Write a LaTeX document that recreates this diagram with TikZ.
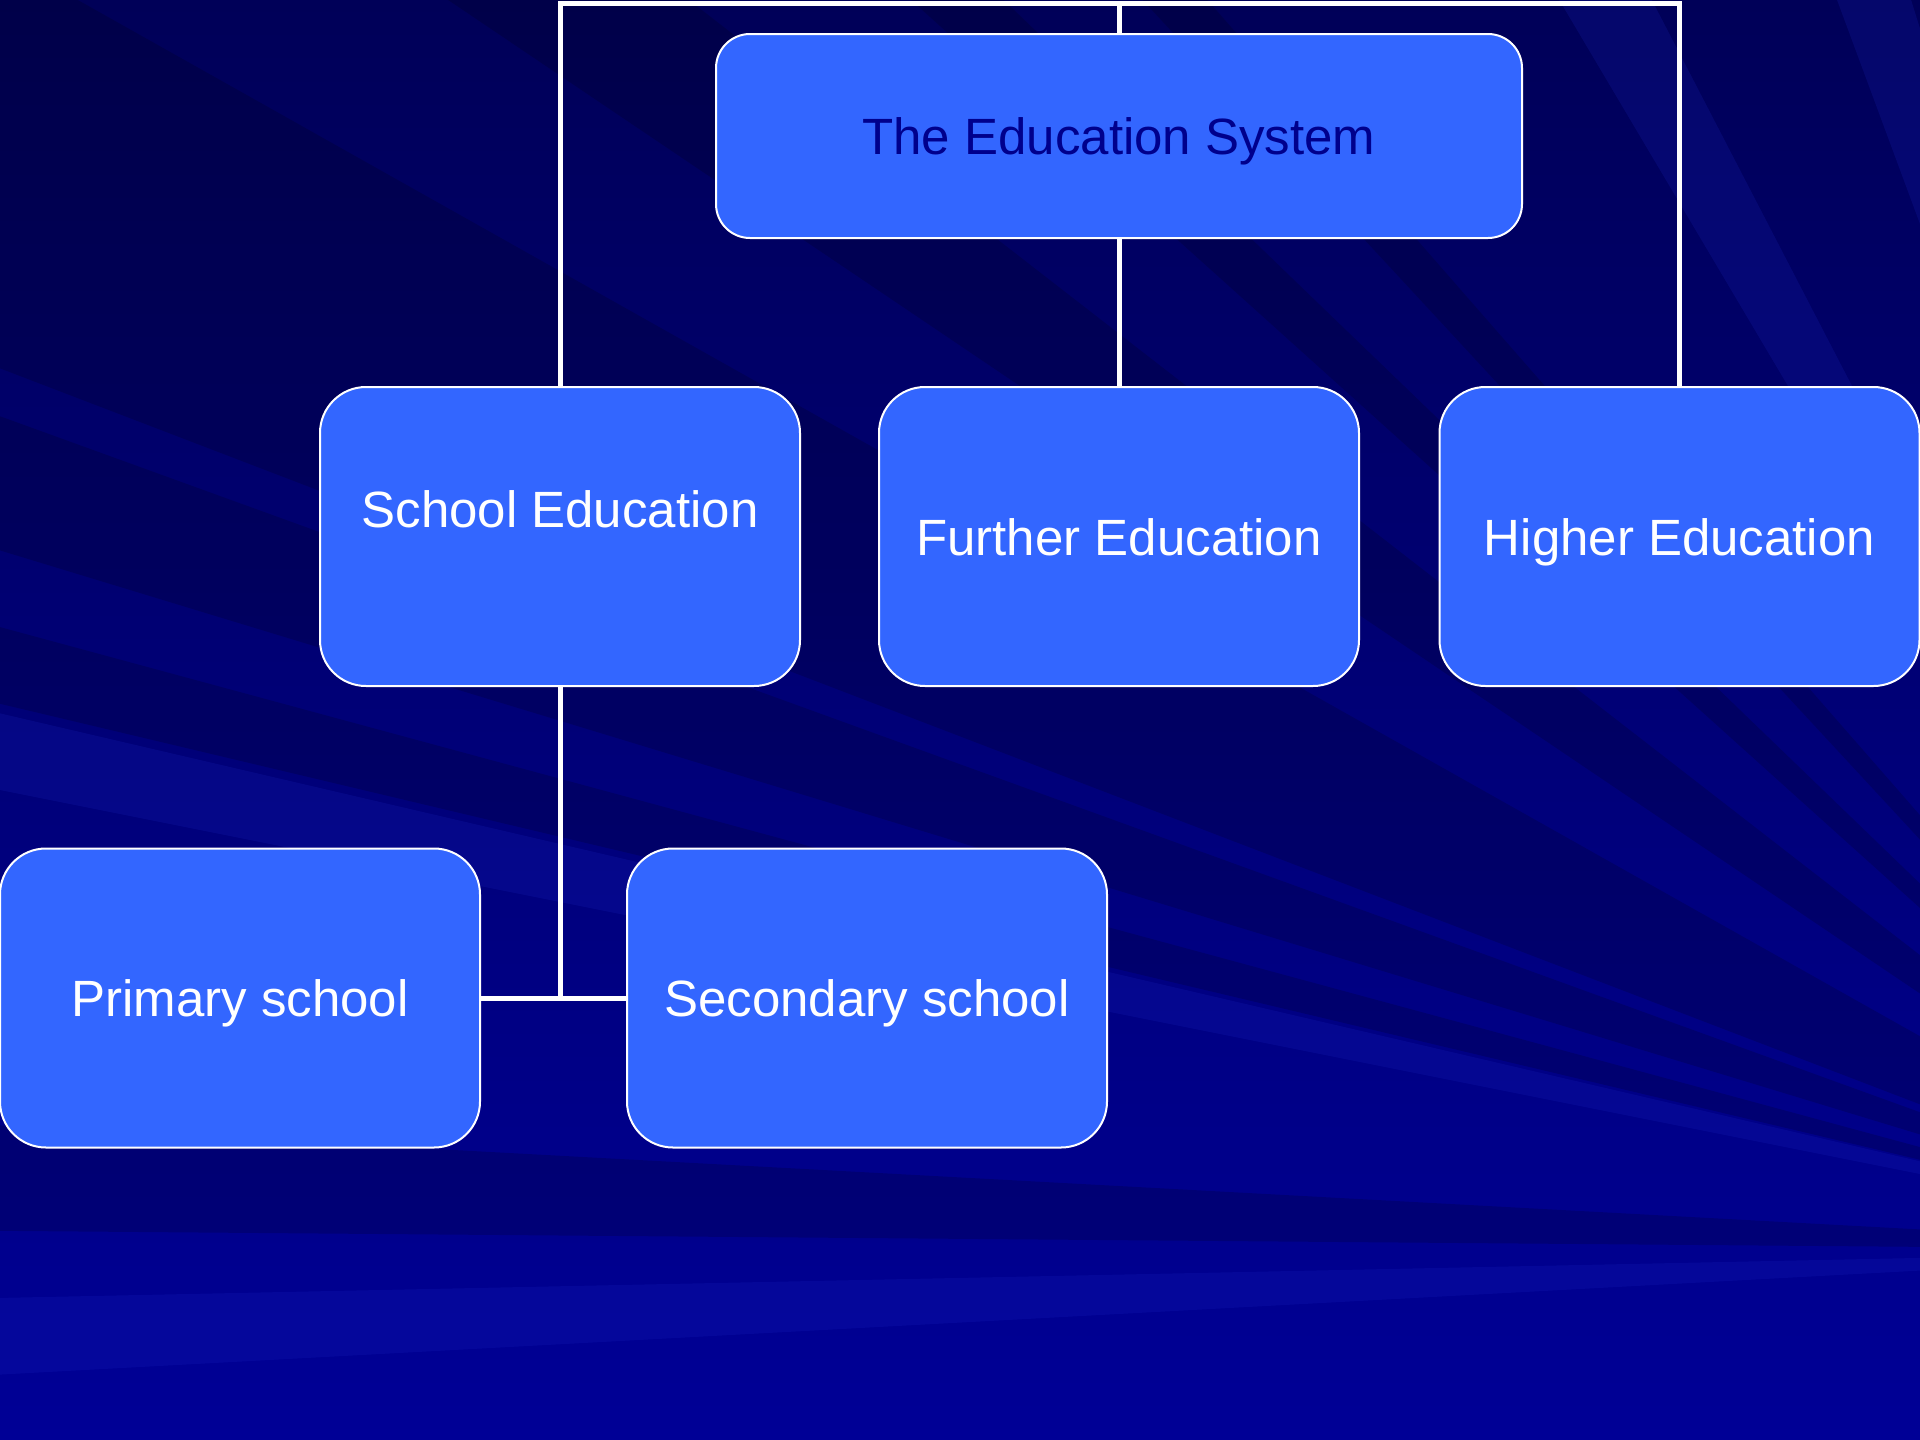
\documentclass[tikz,border=0pt]{standalone}
\usepackage{fontspec}
\setmainfont{Liberation Sans}
\pgfdeclarelayer{bg}
\pgfdeclarelayer{lines}
\pgfsetlayers{bg,lines,main}
\begin{document}
\begin{tikzpicture}[x=1pt,y=-1pt,
  box/.style={draw=white,line width=2pt,fill=boxblue,rounded corners=46pt,
    minimum width=480pt,minimum height=299pt,inner sep=0pt,
    text height=37pt,text depth=0pt,
    text=white,font=\fontsize{51}{60}\selectfont},
  link/.style={draw=white,line width=5pt},
  darkray/.style={fill=black,opacity=0.16},
  lightray/.style={fill=rayblue,opacity=0.16}]
\definecolor{boxblue}{HTML}{3366FF}
\definecolor{bgtop}{HTML}{000058}
\definecolor{bgbot}{HTML}{000096}
\definecolor{rayblue}{HTML}{2030D0}
\definecolor{titletext}{HTML}{00008C}
\useasboundingbox (0,0) rectangle (1920,1440);
% nodes
\node[box,minimum width=806pt,minimum height=204pt,rounded corners=34pt,text=titletext] (root) at (1119,136) {The Education System};
\node[box,label={[text=white,font=\fontsize{51}{60}\selectfont,text height=37pt,text depth=0pt,yshift=28pt]center:School Education}] (school) at (560,536.5) {};
\node[box] (further) at (1119,536.5) {Further Education};
\node[box] (higher) at (1679.5,536.5) {Higher Education};
\node[box] (primary) at (240,998) {Primary school};
\node[box] (secondary) at (867,998) {Secondary school};
\coordinate (topc) at (1119,3);
\coordinate (tl) at (560,3);
\coordinate (tr) at (1679.5,3);
\coordinate (mid) at (560,998);
% connectors
\begin{pgfonlayer}{lines}
\draw[link] (school.north) -- (tl) -- (tr) -- (higher.north);
\draw[link] (topc) -- (further.north);
\draw[link] (school.south) -- (mid);
\draw[link] (primary.east) -- (secondary.west);
\end{pgfonlayer}
% background
\begin{pgfonlayer}{bg}
\begin{scope}
\clip (0,0) rectangle (1920,1440);
\shade[top color=bgtop,bottom color=bgbot] (0,0) rectangle (1920,1440);
\coordinate (F) at (2300,1250);
\fill[darkray] (F) -- (-100,-100) -- (-100,330) -- cycle;
\fill[darkray] (F) -- (-100,380) -- (-100,520) -- cycle;
\fill[darkray] (F) -- (-100,600) -- (-100,680) -- cycle;
\fill[lightray] (F) -- (-100,690) -- (-100,770) -- cycle;
\fill[darkray] (F) -- (-100,1120) -- (-100,1230) -- cycle;
\fill[lightray] (F) -- (-100,1300) -- (-100,1380) -- cycle;
\fill[darkray] (F) -- (300,-100) -- (560,-100) -- cycle;
\fill[darkray] (F) -- (800,-100) -- (900,-100) -- cycle;
\fill[darkray] (F) -- (1050,-100) -- (1120,-100) -- cycle;
\fill[lightray] (F) -- (1500,-100) -- (1600,-100) -- cycle;
\fill[lightray] (F) -- (1800,-100) -- (1880,-100) -- cycle;
\fill[lightray] (F) -- (2100,600) -- (1920,720) -- cycle;
\end{scope}
\end{pgfonlayer}
\end{tikzpicture}
\end{document}
